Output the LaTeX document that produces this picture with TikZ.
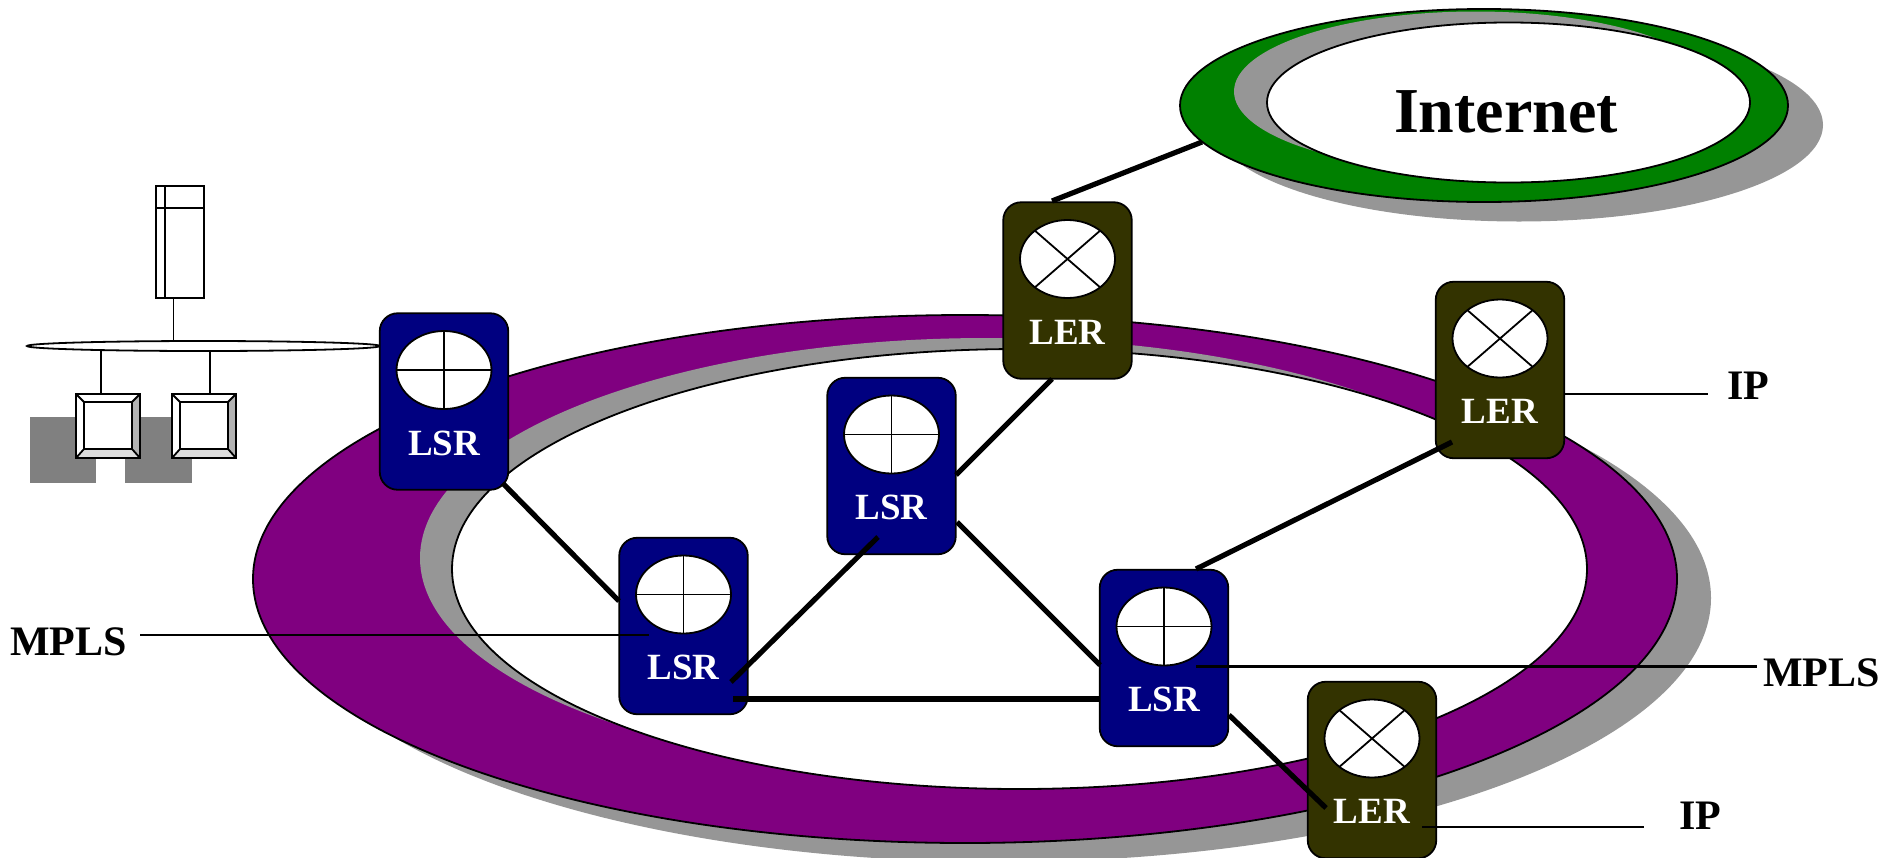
\documentclass[tikz,border=0pt]{standalone}
\usepackage{fontspec}
\setmainfont{Liberation Serif}
\usetikzlibrary{shapes.geometric,calc}
\definecolor{ringpurple}{HTML}{800080}
\definecolor{netgreen}{HTML}{008000}
\definecolor{shadowgray}{HTML}{969696}
\definecolor{lsrblue}{HTML}{000080}
\definecolor{lerolive}{HTML}{333300}
\definecolor{deskgray}{HTML}{808080}
\definecolor{bevelright}{HTML}{B2B2B2}
\definecolor{bevelbottom}{HTML}{DDDDDD}
\tikzset{
  blob/.style={ellipse,inner sep=0pt,outer sep=0pt},
  outline/.style={draw=black,line width=1.8pt},
  routerbox/.style={rectangle,rounded corners=18pt,draw=black,line width=1.8pt,minimum width=128.5pt,minimum height=176.5pt,inner sep=0pt,outer sep=0pt},
  routereye/.style={blob,fill=white,draw=black,line width=1.8pt,minimum width=95pt,minimum height=78pt},
  routertext/.style={text=white,font=\bfseries\fontsize{37}{37}\selectfont,inner sep=0pt,anchor=base},
  crossline/.style={draw=black,line width=1.8pt},
  trunk/.style={draw=black,line width=5.2pt},
  leader/.style={draw=black,line width=2.2pt},
  thinline/.style={draw=black,line width=1.8pt},
  sidelabel/.style={font=\bfseries\fontsize{42}{42}\selectfont,inner sep=0pt,anchor=base west},
}
\newcommand{\lsrbox}[3]{%
  \node[routerbox,fill=lsrblue] (#1) at (#2,#3) {};
  \node[routereye] (#1e) at ($(#1)+(0,-31.5)$) {};
  \draw[crossline] (#1e.north)--(#1e.south) (#1e.west)--(#1e.east);
  \node[routertext] (#1t) at ($(#1)+(0,53.5)$) {LSR};
}
\newcommand{\lerbox}[3]{%
  \node[routerbox,fill=lerolive] (#1) at (#2,#3) {};
  \node[routereye] (#1e) at ($(#1)+(0,-31.5)$) {};
  \draw[crossline] (#1e.41)--(#1e.221) (#1e.139)--(#1e.319);
  \node[routertext] (#1t) at ($(#1)+(0,53.5)$) {LER};
}
\begin{document}
\begin{tikzpicture}[x=1pt,y=-1pt]
\useasboundingbox (0,0) rectangle (1885,857);
% Internet cloud
\node[blob,fill=shadowgray,minimum width=608pt,minimum height=193pt] (netshadow) at (1519,125) {};
\node[blob,outline,fill=netgreen,minimum width=608pt,minimum height=193pt] (internet) at (1484,105.5) {};
\node[blob,fill=shadowgray,minimum width=483pt,minimum height=160pt] (netinner) at (1475.5,91.5) {};
\node[blob,outline,fill=white,minimum width=483pt,minimum height=160pt] (nethole) at (1508.5,102.5) {};
\node[font=\bfseries\fontsize{64}{64}\selectfont,inner sep=0pt,anchor=base] (nettext) at (1506,132) {Internet};
% MPLS ring
\node[blob,fill=shadowgray,minimum width=1424pt,minimum height=528pt] (ringshadow) at (999,598) {};
\node[blob,outline,fill=ringpurple,minimum width=1424pt,minimum height=528pt] (ring) at (965,579) {};
\node[blob,fill=shadowgray,minimum width=1135pt,minimum height=440pt] (ringinner) at (987.5,558) {};
\node[blob,outline,fill=white,minimum width=1135pt,minimum height=440pt] (ringhole) at (1019.5,569) {};
% LAN
\node[rectangle,fill=deskgray,minimum width=66pt,minimum height=66pt,inner sep=0pt] (deskA) at (63,450) {};
\node[rectangle,fill=deskgray,minimum width=67pt,minimum height=66pt,inner sep=0pt] (deskB) at (158.5,450) {};
\node[rectangle,draw=black,line width=1.8pt,fill=white,minimum width=48pt,minimum height=112pt,inner sep=0pt] (server) at (180,242) {};
\draw[thinline] (165,186)--(165,298) (156,208)--(204,208);
\node[blob,outline,fill=white,minimum width=353pt,minimum height=10pt] (bus) at (203.5,346) {};
\draw[thinline] (173.5,298)--(173.5,341);
\foreach \mx/\mn in {76/pcA,172/pcB}{
  \fill[white] (\mx,394) rectangle ++(64,64);
  \fill[bevelright] (\mx+64,394)--(\mx+56,402)--(\mx+56,449)--(\mx+64,458)--cycle;
  \fill[bevelbottom] (\mx,458)--(\mx+8,449)--(\mx+56,449)--(\mx+64,458)--cycle;
  \draw[thinline] (\mx,394)--(\mx+8,402) (\mx+64,394)--(\mx+56,402) (\mx,458)--(\mx+8,449) (\mx+64,458)--(\mx+56,449);
  \draw[thinline] (\mx+8,402) rectangle (\mx+56,449);
  \draw[draw=black,line width=2pt] (\mx,394) rectangle (\mx+64,458);
}
\draw[thinline] (100.7,351)--(100.7,394) (210,351)--(210,394);
% routers
\lsrbox{lsrA}{444}{401.5}
\lsrbox{lsrB}{683.5}{626}
\lsrbox{lsrC}{891.5}{466}
\lsrbox{lsrD}{1164}{658}
\lerbox{lerE}{1067.5}{290.5}
\lerbox{lerF}{1500}{370}
\lerbox{lerG}{1372}{770}
% trunk links
\draw[trunk] ($(lsrA)+(58.5,81.5)$)--($(lsrB)+(-64.5,-25)$);
\draw[trunk] ($(lsrB)+(47.5,56)$)--($(lsrC)+(-13.5,71)$);
\draw[trunk] ($(lsrB)+(49.5,73)$)--($(lsrD)+(-64,41)$);
\draw[trunk] ($(lsrC)+(64.5,9)$)--($(lerE)+(-15.5,88.5)$);
\draw[trunk] ($(lsrC)+(65.5,56)$)--($(lsrD)+(-64,7)$);
\draw[trunk] ($(lsrD)+(32,-89)$)--($(lerF)+(-48,72)$);
\draw[trunk] ($(lsrD)+(65,57)$)--($(lerG)+(-46,38)$);
\draw[trunk] ($(lerE)+(-15.5,-89.5)$)--(1202,142);
% labels
\node[sidelabel] (mplsL) at (10,655) {MPLS};
\node[sidelabel] (mplsR) at (1763,686) {MPLS};
\node[sidelabel] (ipR) at (1727,399) {IP};
\node[sidelabel] (ipB) at (1679,829) {IP};
\coordinate (mplsLend) at (140,635);
\coordinate (mplsRend) at (1757,666.5);
\coordinate (ipRend) at (1708,394);
\coordinate (ipBend) at (1644,827);
\draw[leader] (mplsLend)--($(lsrB)+(-34.5,9)$);
\draw[leader] ($(lsrD)+(32,8.5)$)--(mplsRend);
\draw[leader] ($(lerF)+(64,24)$)--(ipRend);
\draw[leader] ($(lerG)+(50,57)$)--(ipBend);
\end{tikzpicture}
\end{document}
